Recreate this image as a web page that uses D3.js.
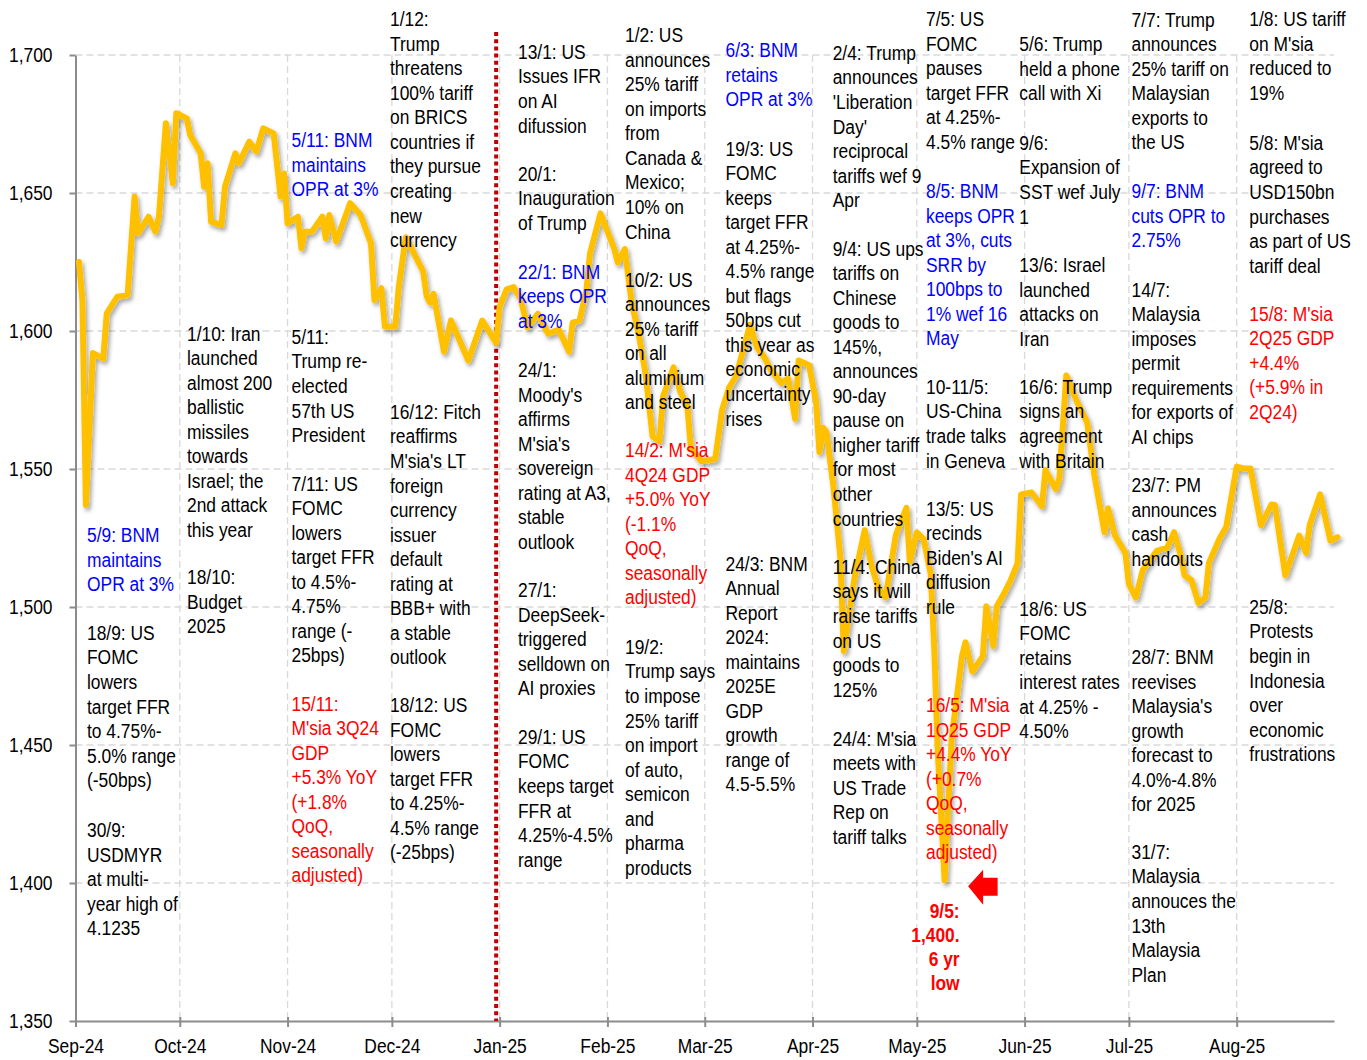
<!DOCTYPE html>
<html><head><meta charset="utf-8">
<script src="https://cdn.jsdelivr.net/npm/d3@7"></script>
<style>
body{margin:0;background:#fff}
text{font-family:"Liberation Sans",Arial,sans-serif}
</style>
</head><body>
<svg id="c" width="1367" height="1060"></svg>
<script>
// ---------------- data ----------------
const dates = [
"2024-09-02","2024-09-03","2024-09-04","2024-09-06","2024-09-09","2024-09-10","2024-09-13","2024-09-16","2024-09-18","2024-09-19","2024-09-22","2024-09-24","2024-09-25","2024-09-27","2024-09-29","2024-09-30",
"2024-10-03","2024-10-04","2024-10-07","2024-10-08","2024-10-09","2024-10-10","2024-10-13","2024-10-14","2024-10-17","2024-10-18","2024-10-21","2024-10-23","2024-10-25","2024-10-28","2024-10-30","2024-10-31",
"2024-11-01","2024-11-04","2024-11-05","2024-11-06","2024-11-08","2024-11-11","2024-11-12","2024-11-13","2024-11-15","2024-11-19","2024-11-22","2024-11-25","2024-11-26","2024-11-28","2024-11-29",
"2024-12-02","2024-12-03","2024-12-05","2024-12-10","2024-12-11","2024-12-12","2024-12-13","2024-12-16","2024-12-18","2024-12-23","2024-12-27","2024-12-31",
"2025-01-01","2025-01-03","2025-01-05","2025-01-07","2025-01-09","2025-01-12","2025-01-15","2025-01-18","2025-01-21","2025-01-22","2025-01-24","2025-01-26","2025-01-27","2025-01-30",
"2025-02-03","2025-02-04","2025-02-06","2025-02-08","2025-02-10","2025-02-12","2025-02-14","2025-02-16","2025-02-17","2025-02-20","2025-02-22","2025-02-24","2025-02-25","2025-02-28",
"2025-03-04","2025-03-06","2025-03-08","2025-03-10","2025-03-14","2025-03-16","2025-03-18","2025-03-20","2025-03-23","2025-03-25","2025-03-27","2025-03-28","2025-03-31",
"2025-04-02","2025-04-03","2025-04-04","2025-04-05","2025-04-07","2025-04-09","2025-04-10","2025-04-13","2025-04-16","2025-04-18","2025-04-20","2025-04-22","2025-04-25","2025-04-28","2025-04-29",
"2025-05-01","2025-05-03","2025-05-05","2025-05-06","2025-05-07","2025-05-09","2025-05-11","2025-05-14","2025-05-15","2025-05-17","2025-05-20","2025-05-21","2025-05-23","2025-05-24","2025-05-26","2025-05-28","2025-05-30","2025-05-31",
"2025-06-03","2025-06-06","2025-06-07","2025-06-10","2025-06-11","2025-06-13","2025-06-16","2025-06-19","2025-06-21","2025-06-24","2025-06-25","2025-06-27","2025-06-30",
"2025-07-01","2025-07-03","2025-07-05","2025-07-09","2025-07-12","2025-07-14","2025-07-16","2025-07-17","2025-07-19","2025-07-21","2025-07-23","2025-07-24","2025-07-27","2025-07-29",
"2025-08-01","2025-08-03","2025-08-05","2025-08-08","2025-08-09","2025-08-11","2025-08-12","2025-08-15","2025-08-19","2025-08-21","2025-08-22","2025-08-25","2025-08-28","2025-08-30"
];
const values = [
1625,1611,1537,1592,1590,1606.4,1612.4,1613,1648.7,1635.4,1641.4,1636,1641.4,1675.3,1653.5,1678.9,
1677,1671,1664.4,1652.3,1660.8,1639.6,1638.4,1652.3,1664.4,1660.8,1668.6,1665,1673.4,1671.6,1648.7,1657.1,
1639,1641.4,1630,1636,1636,1641.4,1633.6,1642,1632.4,1646.3,1642,1631.8,1611.2,1615.5,1601.6,
1601.6,1616,1634,1621.6,1612.7,1610.3,1613.5,1592.5,1603.8,1589.3,1603.8,1595.7,
1608.7,1615.1,1615.9,1611.9,1601.4,1606.2,1599,1600.5,1592.5,1603,1603.8,1615.1,1628.1,1642.6,
1629.7,1624.8,1629.7,1610.3,1599,1584.4,1561.8,1560.1,1576.3,1586.8,1577.9,1573,1557.7,1552.8,
1553.6,1571.5,1579.5,1583.6,1602.2,1594.1,1590.8,1586,1581.2,1582.8,1568.2,1589.3,1587.6,
1574.7,1556.1,1565,1563.4,1543.9,1518.1,1484.1,1510,1527.8,1514.8,1506.8,1503.5,1526.2,1535.9,1516.5,
1527,1524.5,1512.1,1485.9,1448.5,1401,1452,1482.2,1487.2,1476.6,1482.2,1500.3,1485.9,1500.3,1504.7,1509.7,1515.9,1540.8,
1541.5,1536.5,1549.6,1542.7,1546.5,1583.9,1574.6,1567,1548.3,1527.1,1535.8,1525.9,1519.6,
1508.4,1503.4,1513.4,1520.3,1521.5,1527.1,1518.4,1511.5,1509.7,1501.5,1503.4,1515.9,1524.6,1529,
1550.8,1550.2,1550.2,1529.6,1532.1,1537.1,1537,1511.5,1525.9,1519.6,1529.6,1540.8,1524,1525.3
];
const yTicks = [1350,1400,1450,1500,1550,1600,1650,1700];
const monthTicks = ["2024-09-01","2024-10-01","2024-11-01","2024-12-01","2025-01-01","2025-02-01","2025-03-01","2025-04-01","2025-05-01","2025-06-01","2025-07-01","2025-08-01"];
const yearBreak = "2024-12-31";

// annotations: [x, firstLineCenterY, colour, lines]
const notes = [
 [87,535,"blue",["5/9: BNM","maintains","OPR at 3%"]],
 [87,632.7,"black",["18/9: US","FOMC","lowers","target FFR","to 4.75%-","5.0% range","(-50bps)"]],
 [87,830,"black",["30/9:","USDMYR","at multi-","year high of","4.1235"]],
 [187,333.3,"black",["1/10: Iran","launched","almost 200","ballistic","missiles","towards","Israel; the","2nd attack","this year"]],
 [187,577,"black",["18/10:","Budget","2025"]],
 [291.5,140,"blue",["5/11: BNM","maintains","OPR at 3%"]],
 [291.5,336.7,"black",["5/11:","Trump re-","elected","57th US","President"]],
 [291.5,483.3,"black",["7/11: US","FOMC","lowers","target FFR","to 4.5%-","4.75%","range (-","25bps)"]],
 [291.5,703.3,"red",["15/11:","M'sia 3Q24","GDP","+5.3% YoY","(+1.8%","QoQ,","seasonally","adjusted)"]],
 [390,19,"black",["1/12:","Trump","threatens","100% tariff","on BRICS","countries if","they pursue","creating","new","currency"]],
 [390,411.7,"black",["16/12: Fitch","reaffirms","M'sia's LT","foreign","currency","issuer","default","rating at","BBB+ with","a stable","outlook"]],
 [390,705,"black",["18/12: US","FOMC","lowers","target FFR","to 4.25%-","4.5% range","(-25bps)"]],
 [518,51.7,"black",["13/1: US","Issues IFR","on AI","difussion"]],
 [518,173.3,"black",["20/1:","Inauguration","of Trump"]],
 [518,271.7,"blue",["22/1: BNM","keeps OPR","at 3%"]],
 [518,370,"black",["24/1:","Moody's","affirms","M'sia's","sovereign","rating at A3,","stable","outlook"]],
 [518,590,"black",["27/1:","DeepSeek-","triggered","selldown on","AI proxies"]],
 [518,736.7,"black",["29/1: US","FOMC","keeps target","FFR at","4.25%-4.5%","range"]],
 [625,35,"black",["1/2: US","announces","25% tariff","on imports","from","Canada &","Mexico;","10% on","China"]],
 [625,279.5,"black",["10/2: US","announces","25% tariff","on all","aluminium","and steel"]],
 [625,450,"red",["14/2: M'sia","4Q24 GDP","+5.0% YoY","(-1.1%","QoQ,","seasonally","adjusted)"]],
 [625,646.7,"black",["19/2:","Trump says","to impose","25% tariff","on import","of auto,","semicon","and","pharma","products"]],
 [725.5,50,"blue",["6/3: BNM","retains","OPR at 3%"]],
 [725.5,148.3,"black",["19/3: US","FOMC","keeps","target FFR","at 4.25%-","4.5% range","but flags","50bps cut","this year as","economic","uncertainty","rises"]],
 [725.5,563.3,"black",["24/3: BNM","Annual","Report","2024:","maintains","2025E","GDP","growth","range of","4.5-5.5%"]],
 [832.7,52.7,"black",["2/4: Trump","announces","'Liberation","Day'","reciprocal","tariffs wef 9","Apr"]],
 [832.7,248.3,"black",["9/4: US ups","tariffs on","Chinese","goods to","145%,","announces","90-day","pause on","higher tariff","for most","other","countries"]],
 [832.7,566.7,"black",["11/4: China","says it will","raise tariffs","on US","goods to","125%"]],
 [832.7,738.3,"black",["24/4: M'sia","meets with","US Trade","Rep on","tariff talks"]],
 [926,19,"black",["7/5: US","FOMC","pauses","target FFR","at 4.25%-","4.5% range"]],
 [926,191,"blue",["8/5: BNM","keeps OPR","at 3%, cuts","SRR by","100bps to","1% wef 16","May"]],
 [926,386.7,"black",["10-11/5:","US-China","trade talks","in Geneva"]],
 [926,508.3,"black",["13/5: US","recinds","Biden's AI","diffusion","rule"]],
 [926,705,"red",["16/5: M'sia","1Q25 GDP","+4.4% YoY","(+0.7%","QoQ,","seasonally","adjusted)"]],
 [1019.3,44,"black",["5/6: Trump","held a phone","call with Xi"]],
 [1019.3,142.7,"black",["9/6:","Expansion of","SST wef July","1"]],
 [1019.3,265,"black",["13/6: Israel","launched","attacks on","Iran"]],
 [1019.3,386.7,"black",["16/6: Trump","signs an","agreement","with Britain"]],
 [1019.3,608.3,"black",["18/6: US","FOMC","retains","interest rates","at 4.25% -","4.50%"]],
 [1131.5,19.3,"black",["7/7: Trump","announces","25% tariff on","Malaysian","exports to","the US"]],
 [1131.5,191,"blue",["9/7: BNM","cuts OPR to","2.75%"]],
 [1131.5,289.3,"black",["14/7:","Malaysia","imposes","permit","requirements","for exports of","AI chips"]],
 [1131.5,485,"black",["23/7: PM","announces","cash","handouts"]],
 [1131.5,657,"black",["28/7: BNM","reevises","Malaysia's","growth","forecast to","4.0%-4.8%","for 2025"]],
 [1131.5,851.7,"black",["31/7:","Malaysia","annouces the","13th","Malaysia","Plan"]],
 [1249.3,19,"black",["1/8: US tariff","on M'sia","reduced to","19%"]],
 [1249.3,142.7,"black",["5/8: M'sia","agreed to","USD150bn","purchases","as part of US","tariff deal"]],
 [1249.3,313.3,"red",["15/8: M'sia","2Q25 GDP","+4.4%","(+5.9% in","2Q24)"]],
 [1249.3,606.7,"black",["25/8:","Protests","begin in","Indonesia","over","economic","frustrations"]]
];
const lowNote = ["9/5:","1,400.","6 yr","low"];

// ---------------- drawing ----------------
const SX = 0.87, FS = 20, LH = 24.55;
const colours = {black:"#000000", blue:"#0000FF", red:"#FF0000"};
const parse = d3.utcParse("%Y-%m-%d");
const svg = d3.select("#c");

const x = d3.scaleUtc().domain([parse("2024-09-01"), parse("2025-08-29")]).range([75.5, 1334]);
const y = d3.scaleLinear().domain([1350, 1700]).range([1021, 55]);

const defs = svg.append("defs");
const f = defs.append("filter").attr("id","sh").attr("x","-5%").attr("y","-5%").attr("width","110%").attr("height","110%");
f.append("feDropShadow").attr("dx",2).attr("dy",3).attr("stdDeviation",2.2)
  .attr("flood-color","#000").attr("flood-opacity",0.35);

// gridlines
const grid = svg.append("g");
grid.selectAll("line.h").data(yTicks.filter(v => v > 1350)).join("line")
  .attr("x1", x.range()[0]).attr("x2", x.range()[1])
  .attr("y1", d => y(d)).attr("y2", d => y(d))
  .attr("stroke","#d9d9d9").attr("stroke-width",1.3).attr("stroke-dasharray","7,4");
grid.selectAll("line.v").data(monthTicks.slice(1).map(parse)).join("line")
  .attr("x1", d => x(d)).attr("x2", d => x(d))
  .attr("y1", y(1700)).attr("y2", y(1350))
  .attr("stroke","#d9d9d9").attr("stroke-width",1.3).attr("stroke-dasharray","7,4");

// axes
const yAxis = svg.append("g").attr("transform",`translate(${x.range()[0]},0)`)
  .call(d3.axisLeft(y).tickValues(yTicks).tickFormat(d3.format(",")).tickSizeInner(6).tickSizeOuter(0).tickPadding(17));
const xAxis = svg.append("g").attr("transform",`translate(0,${y(1350)})`)
  .call(d3.axisBottom(x).tickValues(monthTicks.map(parse)).tickFormat(d3.utcFormat("%b-%y")).tickSizeInner(6).tickSizeOuter(0).tickPadding(12));
[yAxis, xAxis].forEach(a => {
  a.select(".domain").attr("stroke","#8c8c8c").attr("stroke-width",2);
  a.selectAll(".tick line").attr("stroke","#8c8c8c").attr("stroke-width",2);
  a.selectAll(".tick text").attr("fill","#000").style("font-size",FS+"px")
    .style("font-family",'"Liberation Sans",Arial,sans-serif');
});
xAxis.selectAll(".tick line").attr("y1",-4);
yAxis.selectAll(".tick text").each(function(){
  const t = d3.select(this);
  t.attr("x", +t.attr("x")/SX).attr("transform",`scale(${SX},1)`);
});
xAxis.selectAll(".tick text").attr("transform",`scale(${SX},1)`);

// year-break dotted line
svg.append("line")
  .attr("x1", x(parse(yearBreak))).attr("x2", x(parse(yearBreak)))
  .attr("y1", 32).attr("y2", y(1350))
  .attr("stroke","#C00000").attr("stroke-width",4).attr("stroke-dasharray","4,3.2");

// series line
const series = dates.map((d,i) => ({d: parse(d), v: values[i]}));
svg.append("path").datum(series)
  .attr("d", d3.line().x(p => x(p.d)).y(p => y(p.v)))
  .attr("fill","none").attr("stroke","#FFC000").attr("stroke-width",6)
  .attr("stroke-linejoin","round").attr("stroke-linecap","round")
  .attr("filter","url(#sh)");

// annotations
const ann = svg.append("g");
notes.forEach(([nx, ny, col, lines]) => {
  const t = ann.append("text")
    .attr("transform",`translate(${nx},${ny + 7.2}) scale(${SX},1)`)
    .attr("fill", colours[col]).style("font-size", FS+"px");
  lines.forEach((l,i) => t.append("tspan").attr("x",0).attr("y", i*LH).text(l));
});
// low-point label
const lowPt = series.reduce((a,b) => b.v < a.v ? b : a);
const lt = ann.append("text")
  .attr("transform",`translate(${x(lowPt.d) + 15},${y(lowPt.v) + 37.5}) scale(${SX},1)`)
  .attr("fill","#FF0000").attr("font-weight","bold").attr("text-anchor","end").style("font-size",FS+"px");
lowNote.forEach((l,i) => lt.append("tspan").attr("x",0).attr("y", i*24).text(l));

// red arrow pointing at the low
const ax = x(lowPt.d) + 23.5, ay = y(lowPt.v) + 6;
svg.append("path")
  .attr("d", `M${ax},${ay} L${ax+15},${ay-16.5} L${ax+15},${ay-8.5} L${ax+29.5},${ay-8.5} L${ax+29.5},${ay+9.5} L${ax+15},${ay+9.5} L${ax+15},${ay+18.5} Z`)
  .attr("fill","#FF0000");
</script>
</body></html>
